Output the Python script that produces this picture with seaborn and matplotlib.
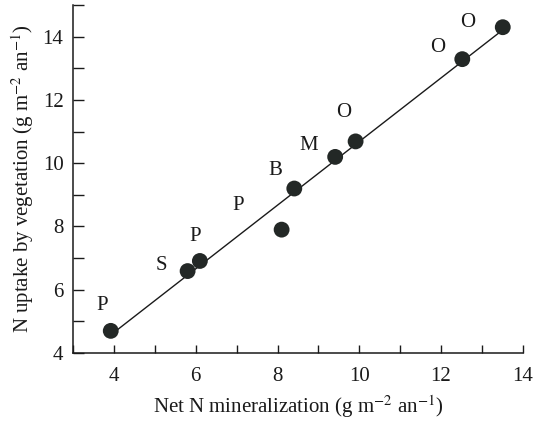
import numpy as np
import pandas as pd
import matplotlib
matplotlib.use("Agg")
import matplotlib.pyplot as plt
import seaborn as sns
from matplotlib.ticker import MultipleLocator

# data
mineralization = [3.92, 5.80, 6.10, 8.10, 8.41, 9.41, 9.91, 12.52, 13.51]
uptake = [4.70, 6.59, 6.91, 7.90, 9.20, 10.20, 10.69, 13.29, 14.30]

# site-type letters and where they sit
site_labels = ["P", "S", "P", "P", "B", "M", "O", "O", "O"]
label_x = [3.71, 5.15, 5.98, 7.04, 7.94, 8.75, 9.62, 11.92, 12.65]
label_y = [5.51, 6.77, 7.67, 8.67, 9.76, 10.55, 11.59, 13.65, 14.44]

df = pd.DataFrame({"mineralization": mineralization, "uptake": uptake})

sns.set_style("ticks")
plt.rcParams["font.family"] = ["Liberation Serif", "DejaVu Serif"]
plt.rcParams["mathtext.fontset"] = "stix"

fig = plt.figure(figsize=(5.34, 4.22), dpi=100)
ax = fig.add_axes([0.137, 0.1635, 0.842, 0.8245])

sns.regplot(data=df, x="mineralization", y="uptake", ax=ax, ci=None,
            scatter=False, color="#1a1a1a", line_kws={"linewidth": 1.0})
sns.scatterplot(data=df, x="mineralization", y="uptake", ax=ax, s=130,
                color="#232826", edgecolor="none", zorder=3)

for lab, lx, ly in zip(site_labels, label_x, label_y):
    ax.text(lx, ly, lab, fontsize=15, ha="center", va="center", color="#1a1a1a")

ax.set_xlim(3, 14)
ax.set_ylim(4, 15)
ax.xaxis.set_minor_locator(MultipleLocator(1))
ax.yaxis.set_minor_locator(MultipleLocator(1))
ax.set_xticks([4, 6, 8, 10, 12, 14])
ax.set_yticks([4, 6, 8, 10, 12, 14])
ax.tick_params(which="both", direction="in", length=6, width=1.0,
               labelsize=15, color="#1a1a1a", labelcolor="#1a1a1a")
ax.tick_params(axis="x", which="major", pad=10)
ax.tick_params(axis="y", which="both", length=8)
ax.tick_params(axis="y", which="major", pad=7)

sns.despine(ax=ax)
for sp in ["left", "bottom"]:
    ax.spines[sp].set_linewidth(1.1)
    ax.spines[sp].set_color("#1a1a1a")

ax.set_xlabel(r"Net N mineralization (g m$^{-2}$ an$^{-1}$)", fontsize=15, color="#1a1a1a", labelpad=5)
ax.set_ylabel(r"N uptake by vegetation (g m$^{-2}$ an$^{-1}$)", fontsize=15, color="#1a1a1a", labelpad=5)

fig.savefig("out.png", dpi=100)
